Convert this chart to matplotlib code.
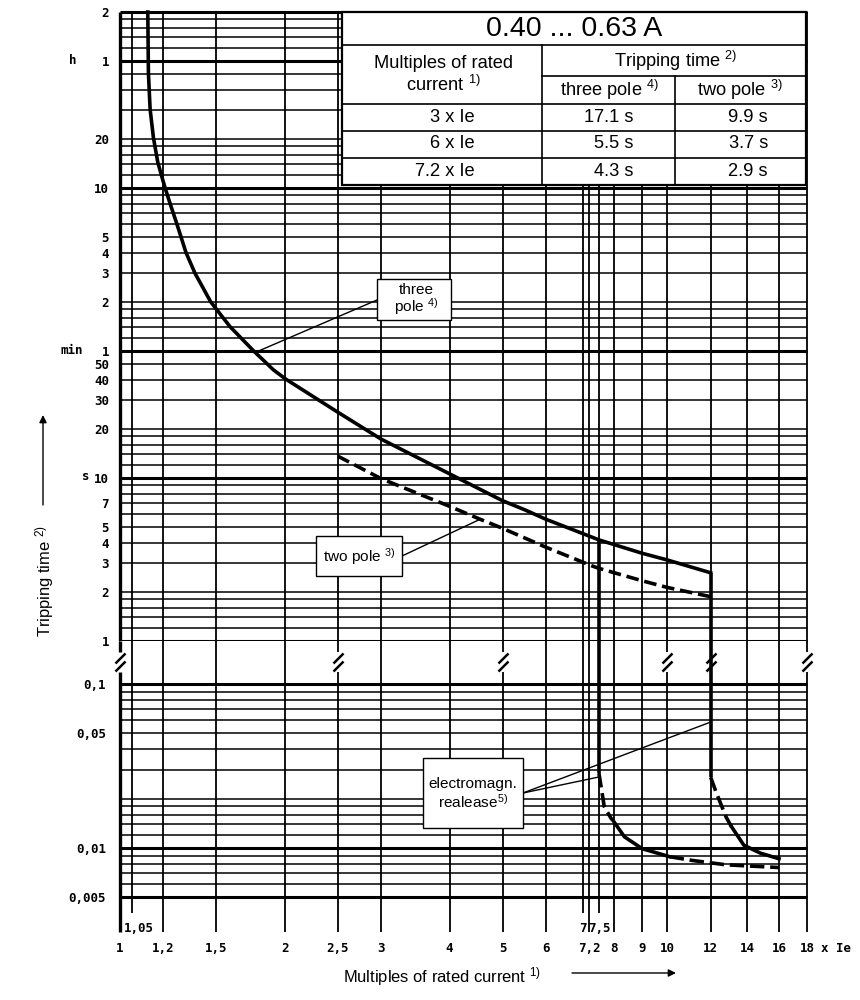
import matplotlib
matplotlib.use('Agg')
import matplotlib.pyplot as plt
from matplotlib import font_manager
from matplotlib.path import Path
from matplotlib.patches import Rectangle
from matplotlib.lines import Line2D
from matplotlib.transforms import blended_transform_factory


def has_font(name):
    try:
        font_manager.findfont(font_manager.FontProperties(family=name),
                              fallback_to_default=False)
        return True
    except Exception:
        return False


NARROW = 'Liberation Sans Narrow' if has_font('Liberation Sans Narrow') else 'Liberation Sans'
K = 1.0 if NARROW == 'Liberation Sans Narrow' else 0.85
plt.rcParams['font.family'] = [NARROW, 'DejaVu Sans']
plt.rcParams['mathtext.default'] = 'regular'
TICKFONT = dict(family='DejaVu Sans Mono', weight='bold', size=9)

# ---- grid of the characteristic paper ----
x_grid = [1, 1.05, 1.2, 1.5, 2, 2.5, 3, 4, 5, 6, 7, 7.2, 7.5, 8, 9, 10, 12, 14, 16, 18]
x_short = [1.05, 7, 7.5]
x_breaks = [1, 2.5, 5, 10, 12, 18]
x_ticks = [1, 1.2, 1.5, 2, 2.5, 3, 4, 5, 6, 7.2, 8, 9, 10, 12, 14, 16, 18]
x_ticklabels = ['1', '1,2', '1,5', '2', '2,5', '3', '4', '5', '6', '7,2',
                '8', '9', '10', '12', '14', '16', '18']
x_ticks2 = [1.05, 7, 7.5]
x_ticklabels2 = ['1,05', '7', '7,5']

hours = [1, 1.2, 1.4, 1.6, 1.8, 2]
minutes = [1, 1.2, 1.4, 1.6, 1.8, 2, 3, 4, 5, 6, 7, 8, 9, 10, 12, 14, 16, 18, 20, 30, 40, 50]
seconds = [1, 1.2, 1.4, 1.6, 1.8, 2, 3, 4, 5, 6, 7, 8, 9, 10, 12, 14, 16, 18, 20, 30, 40, 50]
t_major_upper = [1, 10, 60, 600, 3600, 7200]
t_grid_lower = [0.005, 0.006, 0.007, 0.008, 0.009, 0.01, 0.012, 0.014, 0.016, 0.018,
                0.02, 0.03, 0.04, 0.05, 0.06, 0.07, 0.08, 0.09, 0.1]
t_major_lower = [0.005, 0.01, 0.1]

y_ticks_upper = [7200, 3600, 1200, 600, 300, 240, 180, 120, 60, 50, 40, 30, 20, 10, 7, 5, 4, 3, 2, 1]
y_labels_upper = ['2', '1', '20', '10', '5', '4', '3', '2', '1', '50', '40', '30', '20',
                  '10', '7', '5', '4', '3', '2', '1']
y_ticks_lower = [0.1, 0.05, 0.01, 0.005]
y_labels_lower = ['0,1', '0,05', '0,01', '0,005']

# ---- characteristics ----
three_x = [1.124, 1.127, 1.135, 1.151, 1.172, 1.197, 1.209, 1.234, 1.269, 1.32, 1.371,
           1.465, 1.588, 1.752, 1.907, 2.01, 2.133, 2.5, 3, 4, 5, 5.5, 6, 7.2, 7.5,
           9, 10, 12]
three_t = [7200, 3040, 1830, 1220, 866, 673, 600, 484, 365, 241, 180,
           120, 84.8, 60.4, 46, 40.3, 35.5, 25.3, 17.3, 10.6, 7.25, 6.36, 5.58, 4.4, 4.17,
           3.45, 3.14, 2.62]
two_x = [2.5, 3, 4, 4.55, 5, 6, 7.3, 7.5, 9, 10, 12]
two_t = [13.6, 9.9, 6.7, 5.58, 4.91, 3.76, 2.88, 2.79, 2.34, 2.13, 1.87]
drop_x = [7.5, 12]
drop_top = [4.17, 2.62]
drop_bottom = [0.0286, 0.027]
tail75_x = [7.5, 7.67, 7.89, 7.95, 8.35, 9.0, 10.1, 11.1, 12.8, 16]
tail75_t = [0.0286, 0.0179, 0.0152, 0.0148, 0.0117, 0.0099, 0.00885, 0.0084, 0.0079, 0.0076]
tail12_x = [12, 12.3, 12.8, 13.1, 13.8, 14.8, 16]
tail12_t = [0.027, 0.0216, 0.0155, 0.0135, 0.0104, 0.0093, 0.0086]

table_rows = [['3 x Ie', '17.1 s', '9.9 s'],
              ['6 x Ie', '5.5 s', '3.7 s'],
              ['7.2 x Ie', '4.3 s', '2.9 s']]

W, H = 860, 1000


def fx(px):
    return px / W


def fy(py):
    return 1 - py / H


fig = plt.figure(figsize=(W / 100, H / 100), dpi=100)
ax_top = fig.add_axes([fx(120), fy(641), fx(807) - fx(120), fy(12) - fy(641)])
ax_bot = fig.add_axes([fx(120), fy(932), fx(807) - fx(120), fy(641) - fy(932)])

bot_lo = 0.1 * 10 ** (-(932 - 684) / 164)
bot_hi = 0.1 * 10 ** ((684 - 641) / 164)
short_lo = 0.1 * 10 ** (-(913 - 684) / 164)
gap_lo, gap_hi = 0.118, 0.157
t_break = 0.136

for ax in (ax_top, ax_bot):
    ax.set_xscale('log')
    ax.set_yscale('log')
    ax.set_xlim(1, 18)
    for s in ax.spines.values():
        s.set_visible(False)
    ax.minorticks_off()
    ax.tick_params(length=0)
ax_top.set_ylim(1, 7200)
ax_bot.set_ylim(bot_lo, bot_hi)

# horizontal grid
t_upper = sorted(set([h * 3600 for h in hours] + [m * 60 for m in minutes] + seconds))
for t in t_upper:
    lw = 2.2 if t in t_major_upper else 1.1
    ax_top.hlines(t, 1, 18, color='black', lw=lw, clip_on=False, zorder=1)
for t in t_grid_lower:
    lw = 2.2 if t in t_major_lower else 1.1
    ax_bot.hlines(t, 1, 18, color='black', lw=lw, clip_on=False, zorder=1)

# vertical grid
for x in x_grid:
    lw = 2.4 if x == 1 else 1.3
    ax_top.vlines(x, 1, 7200, color='black', lw=lw, clip_on=False, zorder=1)
    lo = short_lo if x in x_short else bot_lo
    if x in x_breaks:
        ax_bot.vlines(x, lo, gap_lo, color='black', lw=lw, clip_on=False, zorder=1)
        ax_bot.vlines(x, gap_hi, bot_hi, color='black', lw=lw, clip_on=False, zorder=1)
    else:
        ax_bot.vlines(x, lo, bot_hi, color='black', lw=lw, clip_on=False, zorder=1)

# break marks
slash = Path([(-5, -9), (5, 1), (-5, -1), (5, 9)],
             [Path.MOVETO, Path.LINETO, Path.MOVETO, Path.LINETO])
ax_bot.plot(x_breaks, [t_break] * len(x_breaks), ls='none', marker=slash, ms=13,
            mew=1.8, color='black', clip_on=False, zorder=4)

# ticks
ax_top.set_xticks([])
ax_top.set_yticks(y_ticks_upper)
ax_top.set_yticklabels(y_labels_upper, fontdict=TICKFONT)
ax_top.tick_params(axis='y', pad=8)
ax_bot.set_yticks(y_ticks_lower)
ax_bot.set_yticklabels(y_labels_lower, fontdict=TICKFONT)
ax_bot.tick_params(axis='y', pad=10)
ax_bot.set_xticks(x_ticks)
ax_bot.set_xticklabels(x_ticklabels, fontdict=TICKFONT)
ax_bot.tick_params(axis='x', pad=7)
tr = blended_transform_factory(ax_bot.transData, fig.transFigure)
for x, lab in zip(x_ticks2, x_ticklabels2):
    if x == 1.05:
        ax_bot.text(1.017, fy(928), lab, transform=tr, ha='left', va='center', **TICKFONT)
    else:
        ax_bot.text(x, fy(928), lab, transform=tr, ha='center', va='center', **TICKFONT)
fig.text(fx(836), fy(949), 'x Ie', ha='center', va='center', **TICKFONT)
fig.text(fx(73), fy(61), 'h', ha='center', va='center', **TICKFONT)
fig.text(fx(72), fy(351), 'min', ha='center', va='center', **TICKFONT)
fig.text(fx(86), fy(477), 's', ha='center', va='center', **TICKFONT)

# curves
CW = 2.6
ax_top.plot(three_x, three_t, color='black', lw=CW, zorder=3, clip_on=False)
ax_top.plot(two_x, two_t, color='black', lw=CW, ls=(0, (3.5, 1.6)), zorder=3)
for x, t0 in zip(drop_x, drop_top):
    ax_top.plot([x, x], [t0, 1], color='black', lw=CW, zorder=3, clip_on=False,
                solid_capstyle='butt')
for x, t1 in zip(drop_x, drop_bottom):
    ax_bot.plot([x, x], [bot_hi, t1], color='black', lw=CW, zorder=3, clip_on=False,
                solid_capstyle='butt')
dash = (0, (4, 1.6))
ax_bot.plot(tail75_x[0:4], tail75_t[0:4], color='black', lw=CW, ls=dash, zorder=3)
ax_bot.plot(tail75_x[3:7], tail75_t[3:7], color='black', lw=CW, zorder=3)
ax_bot.plot(tail75_x[6:], tail75_t[6:], color='black', lw=CW, ls=dash, zorder=3)
ax_bot.plot(tail12_x[0:4], tail12_t[0:4], color='black', lw=CW, ls=dash, zorder=3)
ax_bot.plot(tail12_x[3:], tail12_t[3:], color='black', lw=CW, zorder=3)


# annotation boxes
def box(x0, y0, x1, y1, lw=1.0):
    fig.add_artist(Rectangle((fx(x0), fy(y1)), fx(x1) - fx(x0), fy(y0) - fy(y1),
                             transform=fig.transFigure, facecolor='white',
                             edgecolor='black', lw=lw, zorder=5))


def leader(ax, start, xy):
    ax.annotate('', xy=xy, xycoords='data', xytext=(fx(start[0]), fy(start[1])),
                textcoords='figure fraction',
                arrowprops=dict(arrowstyle='-', lw=1.0, color='black', shrinkA=0, shrinkB=0),
                zorder=4)


box(377, 279, 451, 320)
fig.text(fx(416), fy(300), 'three\npole $^{4)}$', ha='center', va='center',
         fontsize=13 * K, linespacing=1.0, zorder=6)
leader(ax_top, (377, 300), (1.77, 59))

box(316, 536, 402, 576)
fig.text(fx(359), fy(557), 'two pole $^{3)}$', ha='center', va='center',
         fontsize=13 * K, zorder=6)
leader(ax_top, (402, 556), (4.55, 5.58))

box(423, 758, 523, 828)
fig.text(fx(473), fy(794), 'electromagn.\nrealease$^{5)}$', ha='center', va='center',
         fontsize=13 * K, linespacing=1.1, zorder=6)
leader(ax_bot, (523, 793), (7.5, 0.0271))
leader(ax_bot, (523, 793), (12, 0.0586))

# table
box(342, 12, 806, 185, lw=1.6)
tab_lines = [((342, 45), (806, 45)), ((542, 76), (806, 76)), ((342, 104), (806, 104)),
             ((342, 131), (806, 131)), ((342, 158), (806, 158)),
             ((542, 45), (542, 185)), ((675, 76), (675, 185))]
for (a, b) in tab_lines:
    fig.add_artist(Line2D([fx(a[0]), fx(b[0])], [fy(a[1]), fy(b[1])],
                          transform=fig.transFigure, color='black', lw=1.2, zorder=6))
fig.text(fx(574), fy(29), '0.40 ... 0.63 A', ha='center', va='center',
         family='Liberation Sans', fontsize=20.5, zorder=7)
fig.text(fx(443), fy(75), 'Multiples of rated\ncurrent $^{1)}$', ha='center', va='center',
         fontsize=15.5 * K, linespacing=1.15, zorder=7)
fig.text(fx(676), fy(61), 'Tripping time $^{2)}$', ha='center', va='center',
         fontsize=15.5 * K, zorder=7)
fig.text(fx(610), fy(90), 'three pole $^{4)}$', ha='center', va='center',
         fontsize=15.5 * K, zorder=7)
fig.text(fx(740), fy(90), 'two pole $^{3)}$', ha='center', va='center',
         fontsize=15.5 * K, zorder=7)
row_y = [117, 144, 172]
col_right = [475, 633, 768]
for yy, row in zip(row_y, table_rows):
    for xr, cell in zip(col_right, row):
        fig.text(fx(xr), fy(yy), cell, ha='right', va='center',
                 fontsize=15.5 * K, zorder=7)

# axis labels with arrows
fig.text(fx(45), fy(581), 'Tripping time $^{2)}$', rotation=90, ha='center', va='center',
         fontsize=14 * K)
fig.text(fx(343), fy(977), 'Multiples of rated current $^{1)}$', ha='left', va='center',
         fontsize=14 * K)
arrow = dict(arrowstyle='-|>', lw=1.0, color='black', mutation_scale=11, shrinkA=0, shrinkB=0)
ax_top.annotate('', xy=(fx(43), fy(415)), xycoords='figure fraction',
                xytext=(fx(43), fy(505)), textcoords='figure fraction',
                arrowprops=arrow, annotation_clip=False)
ax_bot.annotate('', xy=(fx(676), fy(973)), xycoords='figure fraction',
                xytext=(fx(572), fy(973)), textcoords='figure fraction',
                arrowprops=arrow, annotation_clip=False)

fig.savefig('out.png', dpi=100, facecolor='white')
